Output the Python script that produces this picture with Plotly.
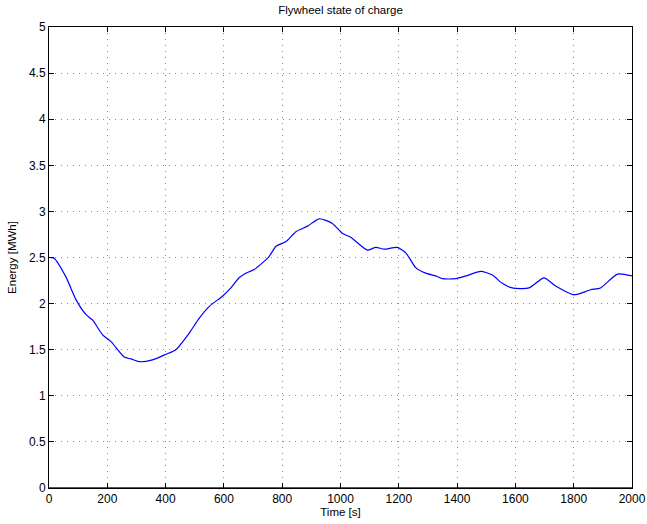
import plotly.graph_objects as go

time_s = [0, 18, 58, 93, 127, 150, 184, 212, 258, 281, 310, 355, 401, 435, 481, 515, 550, 595,
          624, 652, 675, 704, 755, 778, 812, 847, 887, 927, 972, 1007, 1035, 1092, 1121, 1150,
          1195, 1224, 1258, 1292, 1327, 1350, 1395, 1430, 1481, 1521, 1555, 1589, 1647, 1698,
          1738, 1795, 1812, 1858, 1892, 1950, 2000]
energy_mwh = [2.50, 2.49, 2.29, 2.04, 1.88, 1.82, 1.66, 1.59, 1.42, 1.40, 1.37, 1.39, 1.45, 1.50,
              1.68, 1.84, 1.97, 2.08, 2.17, 2.28, 2.33, 2.37, 2.51, 2.62, 2.67, 2.78, 2.84, 2.92,
              2.87, 2.76, 2.72, 2.58, 2.61, 2.59, 2.61, 2.55, 2.39, 2.33, 2.30, 2.27, 2.27, 2.30,
              2.35, 2.31, 2.22, 2.17, 2.17, 2.28, 2.19, 2.10, 2.10, 2.15, 2.17, 2.32, 2.30]
zero_x = [0, 2000]
zero_y = [0, 0]

x_ticks = list(range(0, 2001, 200))
y_ticks = [0, 0.5, 1, 1.5, 2, 2.5, 3, 3.5, 4, 4.5, 5]
y_labels = ["0", "0.5", "1", "1.5", "2", "2.5", "3", "3.5", "4", "4.5", "5"]

FONT = "Liberation Sans, Arial, Helvetica"

fig = go.Figure()
fig.add_trace(go.Scatter(x=time_s, y=energy_mwh, mode="lines",
                         line=dict(color="#0000ff", width=1.2, shape="spline", smoothing=0.6),
                         showlegend=False))
fig.add_trace(go.Scatter(x=zero_x, y=zero_y, mode="lines",
                         line=dict(color="#0000ff", width=1.5), showlegend=False, cliponaxis=False))

axis_common = dict(showline=True, linecolor="black", linewidth=1, mirror="allticks",
                   ticks="inside", ticklen=5, tickcolor="black", automargin=False,
                   showgrid=True, gridcolor="#8a8a8a", griddash="1px,5px", gridwidth=1,
                   zeroline=False, tickfont=dict(family=FONT, size=12, color="black"))

fig.update_layout(
    width=647, height=524,
    margin=dict(l=49, r=15, t=27, b=36, autoexpand=False),
    paper_bgcolor="white", plot_bgcolor="white",
    title=dict(text="Flywheel state of charge", x=0.5, xref="paper", y=0.988, yanchor="top",
               font=dict(family=FONT, size=11.5, color="black")),
    xaxis=dict(range=[0, 2000], tickvals=x_ticks, ticktext=[str(v) for v in x_ticks],
               title=dict(text="Time [s]", standoff=2,
                          font=dict(family=FONT, size=11.5, color="black")),
               **axis_common),
    yaxis=dict(range=[0, 5], tickvals=y_ticks, ticktext=y_labels,
               title=dict(text="Energy [MWh]", standoff=9,
                          font=dict(family=FONT, size=11.5, color="black")),
               **axis_common),
    font=dict(family=FONT, color="black"),
)

fig.write_html("out.html")
